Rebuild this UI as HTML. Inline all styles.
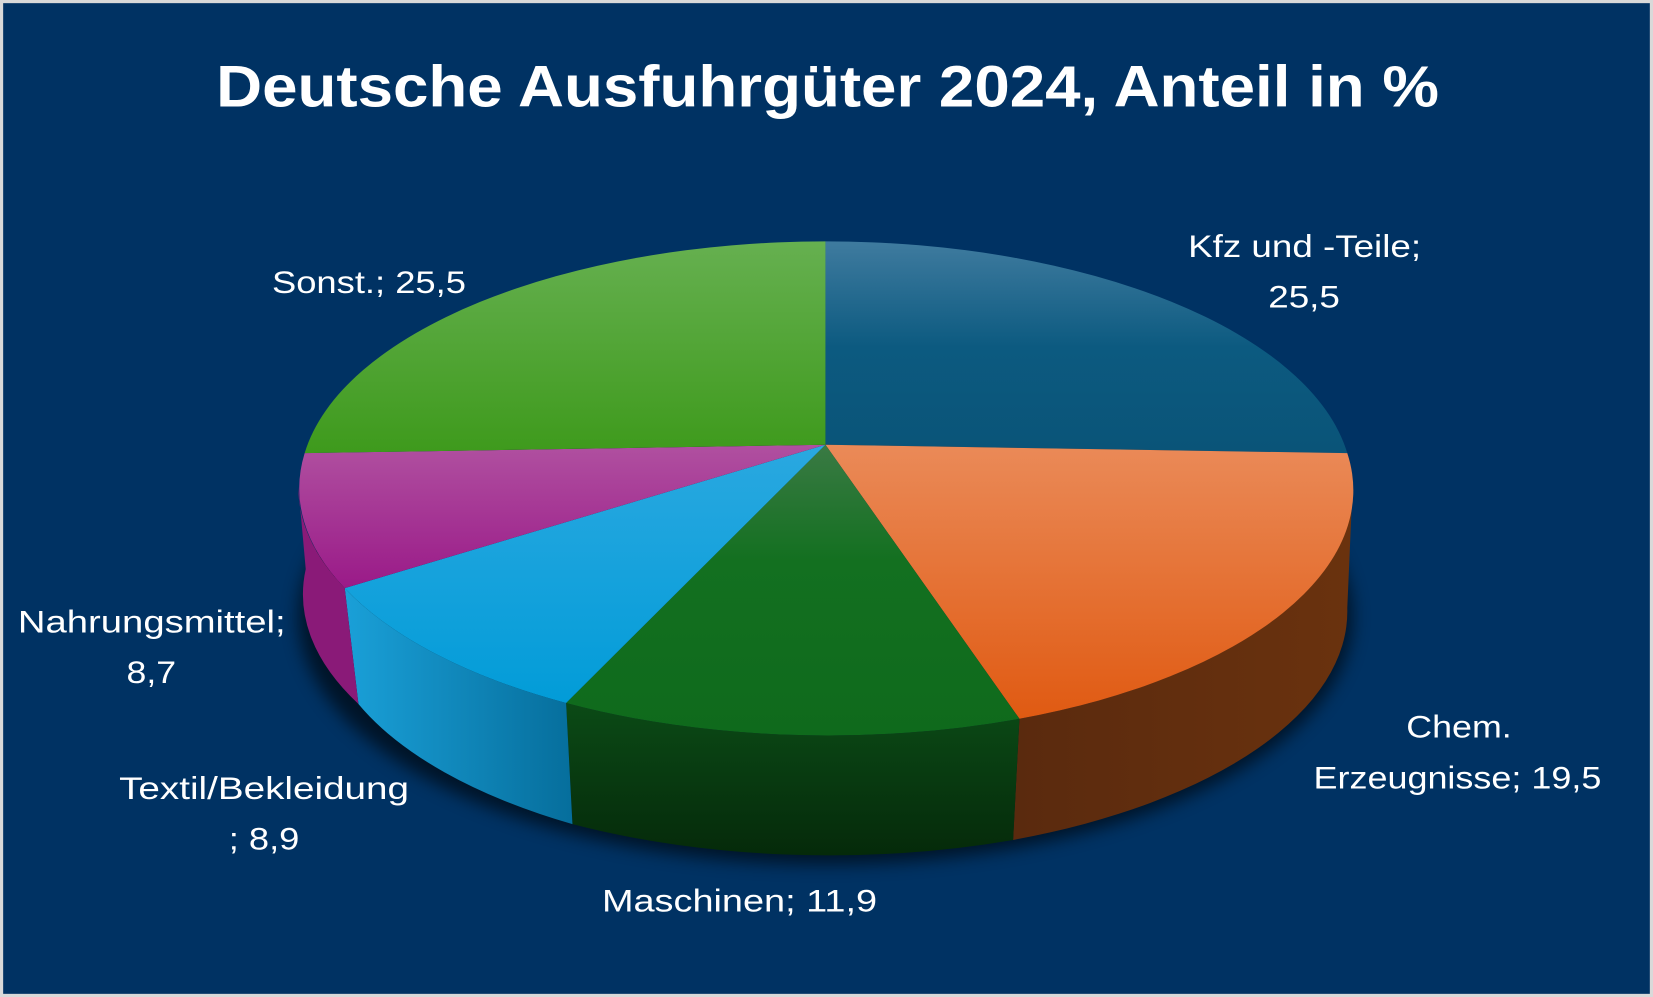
<!DOCTYPE html>
<html><head><meta charset="utf-8"><style>
html,body{margin:0;padding:0;background:#d9d9d9;}
svg{display:block;}
text{font-family:"Liberation Sans",sans-serif;fill:#fff;}
</style></head><body>
<svg width="1653" height="997" viewBox="0 0 1568 946" preserveAspectRatio="none" xmlns="http://www.w3.org/2000/svg">
<defs>
<linearGradient id="gK" x1="0" y1="0" x2="0" y2="1"><stop offset="0" stop-color="#3f7b9f"/><stop offset="0.5" stop-color="#0c5a80"/><stop offset="1" stop-color="#0a5478"/></linearGradient>
<linearGradient id="gC" x1="0" y1="0" x2="0" y2="1"><stop offset="0" stop-color="#ea8a58"/><stop offset="1" stop-color="#e05a12"/></linearGradient>
<linearGradient id="gM" x1="0" y1="0" x2="0" y2="1"><stop offset="0" stop-color="#3a7a44"/><stop offset="0.4" stop-color="#137020"/><stop offset="1" stop-color="#0f6a1c"/></linearGradient>
<linearGradient id="gT" x1="0" y1="0" x2="0" y2="1"><stop offset="0" stop-color="#2aa8e0"/><stop offset="1" stop-color="#029cd8"/></linearGradient>
<linearGradient id="gN" x1="0" y1="0" x2="0" y2="1"><stop offset="0" stop-color="#b050a0"/><stop offset="1" stop-color="#9a1a88"/></linearGradient>
<linearGradient id="gS" x1="0" y1="0" x2="0" y2="1"><stop offset="0" stop-color="#66b050"/><stop offset="1" stop-color="#3e9a1c"/></linearGradient>
<linearGradient id="sC" x1="0" y1="0" x2="1" y2="0"><stop offset="0" stop-color="#5a2a0e"/><stop offset="1" stop-color="#6a320e"/></linearGradient>
<linearGradient id="sM" x1="0" y1="0" x2="0" y2="1"><stop offset="0" stop-color="#0b4a16"/><stop offset="1" stop-color="#052a0a"/></linearGradient>
<linearGradient id="sT" x1="0" y1="0" x2="1" y2="0"><stop offset="0" stop-color="#1aa0d8"/><stop offset="1" stop-color="#066e9c"/></linearGradient>
<filter id="blur"><feGaussianBlur stdDeviation="8"/></filter>
</defs>
<rect x="3" y="3" width="1562" height="940" fill="#003263"/>
<text x="205" y="101" font-size="55" font-weight="bold" textLength="1160" lengthAdjust="spacingAndGlyphs">Deutsche Ausfuhrgüter 2024, Anteil in %</text>
<ellipse cx="783" cy="585" rx="500" ry="235" fill="#000" opacity="0.6" filter="url(#blur)"/>
<path d="M1283 462 A500 233 0 0 1 967 682 L961 797 A500 233 0 0 0 1278 577 Z" fill="url(#sC)"/>
<path d="M967 682 A500 233 0 0 1 537 667 L543 782 A500 233 0 0 0 961 797 Z" fill="url(#sM)"/>
<path d="M537 667 A500 233 0 0 1 327 558 L340 668 A500 233 0 0 0 543 782 Z" fill="url(#sT)"/>
<path d="M327 558 A500 233 0 0 1 283 462 L290 540 A500 233 0 0 0 340 668 Z" fill="#8a1a78"/>
<path d="M783 422 L783 229 A500 233 0 0 1 1278 430 Z" fill="url(#gK)"/>
<path d="M783 422 L1278 430 A500 233 0 0 1 967 682 Z" fill="url(#gC)"/>
<path d="M783 422 L967 682 A500 233 0 0 1 537 667 Z" fill="url(#gM)"/>
<path d="M783 422 L537 667 A500 233 0 0 1 327 558 Z" fill="url(#gT)"/>
<path d="M783 422 L327 558 A500 233 0 0 1 289 430 Z" fill="url(#gN)"/>
<path d="M783 422 L289 430 A500 233 0 0 1 783 229 Z" fill="url(#gS)"/>
<g font-size="30" lengthAdjust="spacingAndGlyphs">
<text x="1127" y="244" textLength="221" lengthAdjust="spacingAndGlyphs">Kfz und -Teile;</text>
<text x="1203" y="292" textLength="68" lengthAdjust="spacingAndGlyphs">25,5</text>
<text x="258" y="278" textLength="184" lengthAdjust="spacingAndGlyphs">Sonst.; 25,5</text>
<text x="1334" y="700" textLength="100" lengthAdjust="spacingAndGlyphs">Chem.</text>
<text x="1246" y="748" textLength="273" lengthAdjust="spacingAndGlyphs">Erzeugnisse; 19,5</text>
<text x="17" y="600" textLength="254" lengthAdjust="spacingAndGlyphs">Nahrungsmittel;</text>
<text x="120" y="648" textLength="47" lengthAdjust="spacingAndGlyphs">8,7</text>
<text x="113" y="758" textLength="275" lengthAdjust="spacingAndGlyphs">Textil/Bekleidung</text>
<text x="217" y="806" textLength="67" lengthAdjust="spacingAndGlyphs">; 8,9</text>
<text x="571" y="865" textLength="261" lengthAdjust="spacingAndGlyphs">Maschinen; 11,9</text>
</g>
</svg>
</body></html>
